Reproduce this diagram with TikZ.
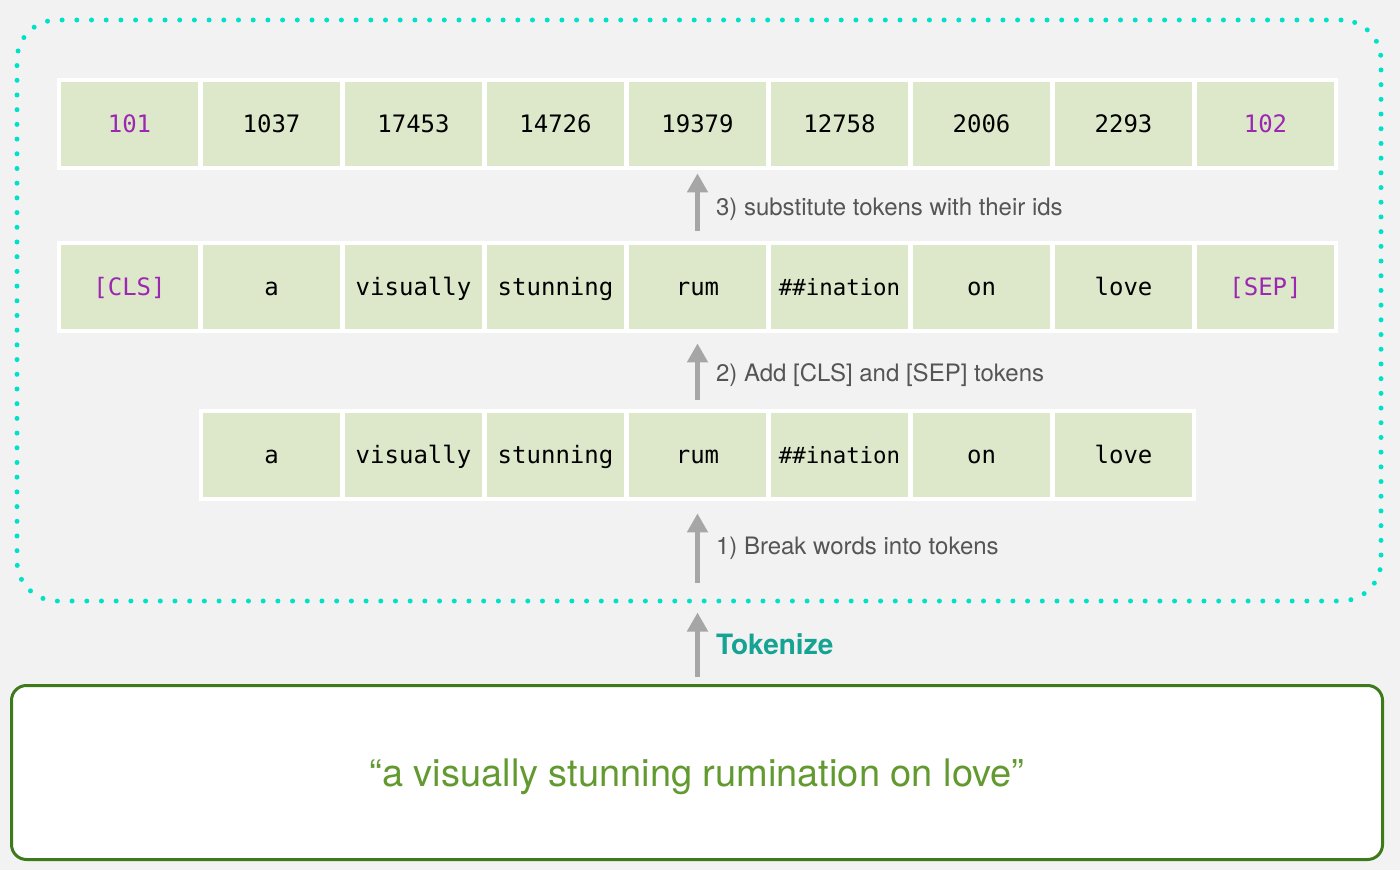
\documentclass[tikz,border=0pt]{standalone}
\usepackage{fontspec}
\setmainfont{TeX Gyre Heros}
\newfontfamily\tokfont{DejaVu Sans Mono}
\usetikzlibrary{arrows.meta,positioning}
\definecolor{bggray}{HTML}{F2F2F2}
\definecolor{cellgreen}{HTML}{DDE8CB}
\definecolor{specpurple}{HTML}{9C27B0}
\definecolor{dotcyan}{HTML}{00E2C8}
\definecolor{tealtext}{HTML}{16A394}
\definecolor{arrowgray}{HTML}{A6A6A6}
\definecolor{labelgray}{HTML}{555555}
\definecolor{boxgreen}{HTML}{3D7A1B}
\definecolor{quotegreen}{HTML}{639A30}
\newcommand{\subtok}{{\fontsize{11.2}{14}\selectfont\#\#ination}}

\begin{document}
\begin{tikzpicture}[
		x=0.5pt, y=-0.5pt,
		cell/.style={fill=cellgreen, minimum width=68.5pt, minimum height=42pt, inner sep=0pt, text height=8.8pt, text depth=0pt, font=\tokfont\fontsize{12}{14}\selectfont},
		tok/.style={text=black},
		spec/.style={text=specpurple},
		uparrow/.style={arrowgray, line width=2.5pt, -{Triangle[width=10pt, length=9.5pt]}},
		steplabel/.style={right=8pt, inner sep=0pt, text=labelgray, font=\fontsize{12}{14}\selectfont},
	]
		\fill[bggray] (0,0) rectangle (1400,870);
		\node[draw=dotcyan, line width=2.5pt, line cap=round, dash pattern=on 0pt off 7.35pt, rounded corners=20pt, minimum width=682pt, minimum height=290.5pt] (tokbox) at (699,310.5) {};
		
		\fill[white] (57,78) rectangle (1338,170);
		\fill[white] (57,241) rectangle (1338,333);
		\fill[white] (199,409) rectangle (1196,501);
		
		\foreach \t/\s [count=\i] in {101/spec, 1037/tok, 17453/tok, 14726/tok, 19379/tok, 12758/tok, 2006/tok, 2293/tok, 102/spec}
			\node[cell, \s] (r1c\i) at ({129.5+(\i-1)*142}, 124) {\t};
		\foreach \t/\s [count=\i] in {{[CLS]}/spec, a/tok, visually/tok, stunning/tok, rum/tok, \subtok/tok, on/tok, love/tok, {[SEP]}/spec}
			\node[cell, \s] (r2c\i) at ({129.5+(\i-1)*142}, 287) {\t};
		\foreach \t [count=\i from 2] in {a, visually, stunning, rum, \subtok, on, love}
			\node[cell, tok] (r3c\i) at ({129.5+(\i-1)*142}, 455) {\t};
		
		\node[draw=boxgreen, line width=1.5pt, fill=white, rounded corners=7.5pt, minimum width=685.5pt, minimum height=87pt, text=quotegreen, text height=13.5pt, text depth=0pt, font=\fontsize{19}{23}\selectfont] (sentence) at (697,772.5) {“a visually stunning rumination on love”};
		
		\draw[uparrow, shorten <=7pt, shorten >=3.5pt] (r2c5.north) -- (r1c5.south) node[midway, steplabel, yshift=-2pt] {3) substitute tokens with their ids};
		\draw[uparrow, shorten <=6.5pt, shorten >=7pt] (r3c5.north) -- (r2c5.south) node[midway, steplabel, yshift=-2pt] {2) Add [CLS] and [SEP] tokens};
		\draw[uparrow, shorten <=10.5pt, shorten >=8pt] (tokbox.south -| r3c5) -- (r3c5.south) node[midway, steplabel, yshift=1pt] {1) Break words into tokens};
		\draw[uparrow, shorten <=3.5pt, shorten >=4.5pt] (sentence.north -| r3c5) -- (tokbox.south -| r3c5) node[midway, steplabel, text=tealtext, font=\bfseries\fontsize{14}{17}\selectfont] {Tokenize};
	\end{tikzpicture}
\end{document}
